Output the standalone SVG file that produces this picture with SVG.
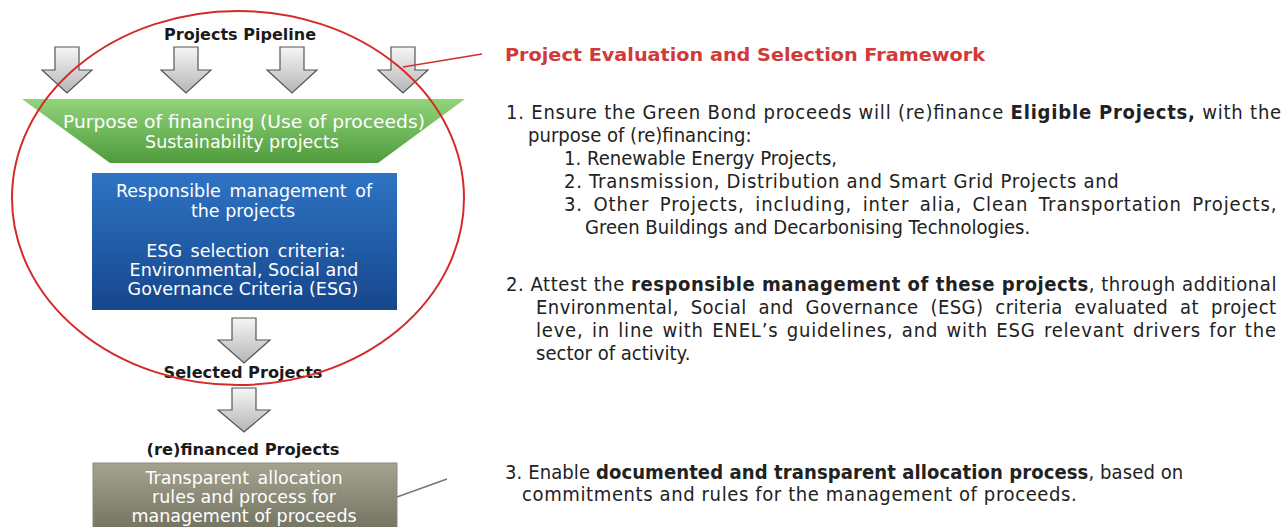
<svg xmlns="http://www.w3.org/2000/svg" width="1283" height="527" viewBox="0 0 1283 527">
<style>
.lbl{font-family:"DejaVu Sans","Verdana",sans-serif;font-size:15px;font-weight:bold;fill:#1a1a1a;text-anchor:middle}
.wt{font-family:"DejaVu Sans","Verdana",sans-serif;font-size:17.5px;fill:#ffffff;text-anchor:middle}
.body{font-family:"DejaVu Sans","Verdana",sans-serif;font-size:19px;fill:#222222}
.b{font-weight:bold}
.arrow{fill:url(#ga);stroke:#555555;stroke-width:1.2}
</style>
<defs>
<linearGradient id="ga" x1="0" y1="0" x2="0" y2="1"><stop offset="0" stop-color="#f6f6f6"/><stop offset="1" stop-color="#b5b5b5"/></linearGradient>
<linearGradient id="gg" x1="0" y1="0" x2="0" y2="1"><stop offset="0" stop-color="#92d47a"/><stop offset="1" stop-color="#4f9b3c"/></linearGradient>
<linearGradient id="gb" x1="0" y1="0" x2="0" y2="1"><stop offset="0" stop-color="#2e74c4"/><stop offset="1" stop-color="#16468c"/></linearGradient>
<linearGradient id="go" x1="0" y1="0" x2="0" y2="1"><stop offset="0" stop-color="#a3a390"/><stop offset="1" stop-color="#6a6a58"/></linearGradient>
</defs>
<rect width="1283" height="527" fill="#ffffff"/>

<g id="pipeline-label"><text class="lbl" x="240" y="40" textLength="152" lengthAdjust="spacingAndGlyphs">Projects Pipeline</text></g>

<g id="purpose">
<polygon points="22,99 465,99 378,163 110,163" fill="url(#gg)"/>
<text class="wt" x="244" y="128" textLength="362" lengthAdjust="spacingAndGlyphs">Purpose of financing (Use of proceeds)</text>
<text class="wt" x="242" y="148">Sustainability projects</text>
</g>

<g id="responsible">
<rect x="92" y="173" width="305" height="137" fill="url(#gb)"/>
<text class="wt" x="244" y="197" word-spacing="3">Responsible management of</text>
<text class="wt" x="243" y="217">the projects</text>
<text class="wt" x="246" y="257" word-spacing="3">ESG selection criteria:</text>
<text class="wt" x="244" y="276">Environmental, Social and</text>
<text class="wt" x="243" y="295">Governance Criteria (ESG)</text>
</g>

<g id="selected"><text class="lbl" x="243" y="378" textLength="159" lengthAdjust="spacingAndGlyphs">Selected Projects</text></g>
<g id="refinanced"><text class="lbl" x="243" y="455" textLength="193" lengthAdjust="spacingAndGlyphs">(re)financed Projects</text></g>

<g id="allocation">
<rect x="93" y="463" width="304" height="80" fill="url(#go)" stroke="#8a8a78" stroke-width="1"/>
<text class="wt" x="244" y="484" word-spacing="3">Transparent allocation</text>
<text class="wt" x="244" y="503">rules and process for</text>
<text class="wt" x="244" y="522">management of proceeds</text>
</g>

<g id="connectors">
<path class="arrow" d="M55,47 H79 V70 H92 L67,93 L42,70 H55 Z"/>
<path class="arrow" d="M174,47 H198 V70 H211 L186,93 L161,70 H174 Z"/>
<path class="arrow" d="M280,47 H304 V70 H317 L292,93 L267,70 H280 Z"/>
<path class="arrow" d="M391,47 H415 V70 H428 L403,93 L378,70 H391 Z"/>
<path class="arrow" d="M232,318 H256 V340 H270 L244,363 L218,340 H232 Z"/>
<path class="arrow" d="M232,388 H256 V410 H270 L244,432 L218,410 H232 Z"/>
<line x1="403" y1="67" x2="482" y2="54" stroke="#d03030" stroke-width="1.5"/>
<line x1="397" y1="497" x2="447" y2="479" stroke="#777777" stroke-width="1.5"/>
</g>

<g id="framework">
<ellipse cx="238" cy="198" rx="226" ry="187" fill="none" stroke="#d42a2a" stroke-width="2"/>
</g>

<g id="title"><text x="505" y="61" font-family="DejaVu Sans, Verdana, sans-serif" font-size="17.5" font-weight="bold" fill="#d03a3a" textLength="480" lengthAdjust="spacingAndGlyphs">Project Evaluation and Selection Framework</text></g>

<g id="text1">
<text class="body" transform="translate(506,119) scale(0.95,1)" textLength="816" lengthAdjust="spacing">1. Ensure the Green Bond proceeds will (re)finance <tspan class="b">Eligible Projects,</tspan> with the</text>
<text class="body" transform="translate(528,142) scale(0.95,1)">purpose of (re)financing:</text>
<text class="body" transform="translate(564,165) scale(0.95,1)">1. Renewable Energy Projects,</text>
<text class="body" transform="translate(564,188) scale(0.95,1)" textLength="584" lengthAdjust="spacing">2. Transmission, Distribution and Smart Grid Projects and</text>
<text class="body" transform="translate(564,211) scale(0.95,1)" textLength="750" lengthAdjust="spacing" word-spacing="4">3. Other Projects, including, inter alia, Clean Transportation Projects,</text>
<text class="body" transform="translate(585,234) scale(0.95,1)">Green Buildings and Decarbonising Technologies.</text>
</g>

<g id="text2">
<text class="body" transform="translate(506,291) scale(0.95,1)" textLength="811" lengthAdjust="spacing">2. Attest the <tspan class="b">responsible management of these projects</tspan>, through additional</text>
<text class="body" transform="translate(536,314) scale(0.95,1)" textLength="779" lengthAdjust="spacing" word-spacing="6">Environmental, Social and Governance (ESG) criteria evaluated at project</text>
<text class="body" transform="translate(536,337) scale(0.95,1)" textLength="779" lengthAdjust="spacing" word-spacing="2">leve, in line with ENEL’s guidelines, and with ESG relevant drivers for the</text>
<text class="body" transform="translate(536,360) scale(0.95,1)">sector of activity.</text>
</g>

<g id="text3">
<text class="body" transform="translate(505,479) scale(0.95,1)" textLength="714" lengthAdjust="spacing">3. Enable <tspan class="b">documented and transparent allocation process</tspan>, based on</text>
<text class="body" transform="translate(522,501) scale(0.95,1)" textLength="584" lengthAdjust="spacing">commitments and rules for the management of proceeds.</text>
</g>
</svg>
